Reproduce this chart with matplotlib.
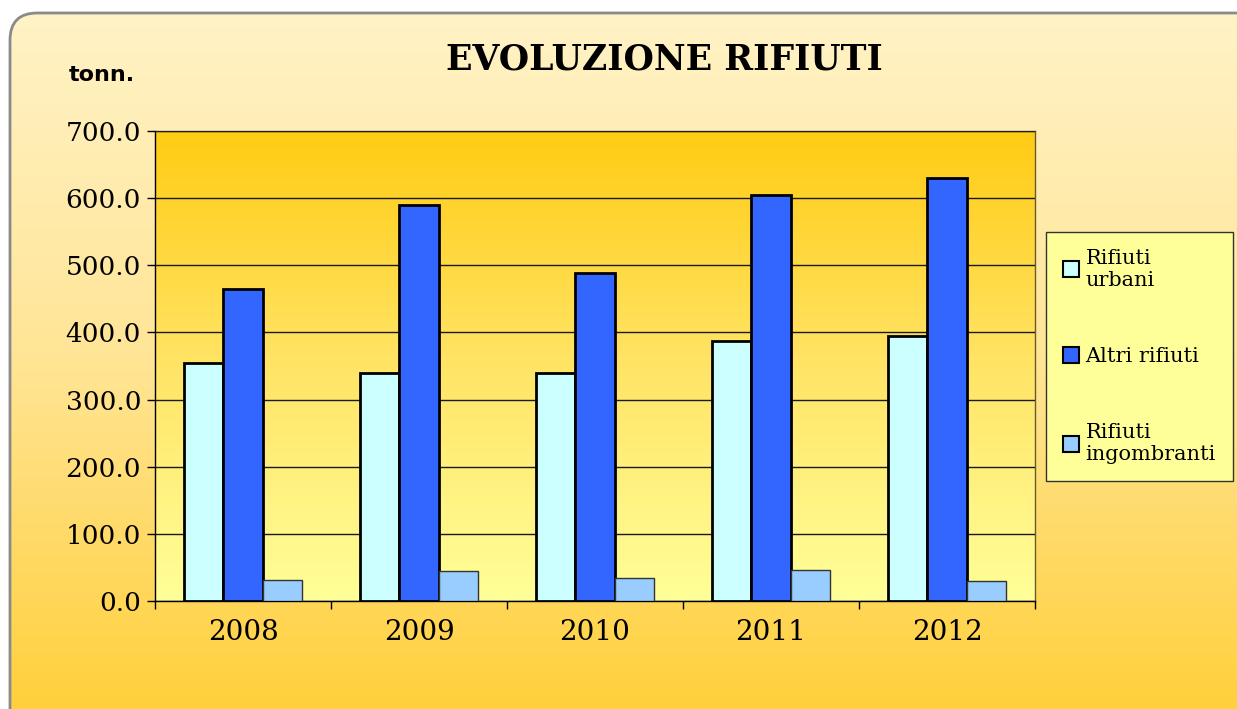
import matplotlib
matplotlib.use("Agg")
import matplotlib.pyplot as plt
import numpy as np
from matplotlib.colors import LinearSegmentedColormap
from matplotlib.patches import FancyBboxPatch, Patch

years = ["2008", "2009", "2010", "2011", "2012"]
urbani = [354.0, 339.0, 339.0, 387.5, 394.0]
altri = [465.0, 590.5, 488.0, 604.5, 630.5]
ingombranti = [31.5, 45.0, 35.0, 46.5, 30.0]
series_names = ["Rifiuti\nurbani", "Altri rifiuti", "Rifiuti\ningombranti"]
series_colors = ["#CCFFFF", "#3366FF", "#99CCFF"]

W, H = 1237, 709
fig = plt.figure(figsize=(W / 100, H / 100), dpi=100)
fig.patch.set_facecolor("white")

# background panel with rounded corner and vertical gradient
bg = fig.add_axes([0, 0, 1, 1], zorder=-5)
bg.set_xlim(0, 1)
bg.set_ylim(0, 1)
bg.axis("off")
bg_cmap = LinearSegmentedColormap.from_list("bg", ["#FFF3C8", "#FFE596", "#FFD03C"])
grad = np.linspace(0, 1, 256).reshape(-1, 1)
img = bg.imshow(grad, extent=[0, 1, 0, 1], origin="upper", aspect="auto", cmap=bg_cmap)
panel = FancyBboxPatch((10 / W, -0.1), 1.1, 1 - 13 / H + 0.1,
                       boxstyle="round,pad=0,rounding_size=0.022",
                       mutation_aspect=W / H, facecolor="none",
                       edgecolor="#8A8A8A", linewidth=2)
bg.add_patch(panel)
img.set_clip_path(panel)

ax = fig.add_axes([155 / W, 1 - 601 / H, 880 / W, 470 / H])
ax_cmap = LinearSegmentedColormap.from_list("ax", ["#FFCC14", "#FFE466", "#FFFF99"])
ax.imshow(grad, extent=[-0.5, 4.5, 0, 700], origin="upper", aspect="auto",
          cmap=ax_cmap, zorder=0)

x = np.arange(len(years))
w = 0.222
ax.bar(x - w, urbani, w, color=series_colors[0], edgecolor="black", linewidth=2, zorder=3)
ax.bar(x, altri, w, color=series_colors[1], edgecolor="black", linewidth=2, zorder=3)
ax.bar(x + w, ingombranti, w, color=series_colors[2], edgecolor="#333333", linewidth=1, zorder=3)

ax.set_xlim(-0.5, 4.5)
ax.set_ylim(0, 700)
ax.set_yticks(np.arange(0, 701, 100))
ax.set_yticklabels([f"{v:.1f}" for v in np.arange(0, 701, 100)],
                   fontfamily="DejaVu Serif", fontsize=19)
ax.yaxis.grid(True, color="#1a1a1a", linewidth=1)
ax.set_axisbelow(False)
for gl in ax.get_ygridlines():
    gl.set_zorder(1)

ax.set_xticks(np.arange(-0.5, 5, 1))
ax.set_xticklabels([])
ax.set_xticks(x, minor=True)
ax.set_xticklabels(years, minor=True, fontfamily="DejaVu Serif", fontsize=20)
ax.tick_params(axis="x", which="major", direction="out", length=6, width=1)
ax.tick_params(axis="x", which="minor", length=0, pad=13)
ax.tick_params(axis="y", direction="out", length=6, width=1, pad=4)

for s in ["top", "right"]:
    ax.spines[s].set_color("#6b5a2a")
    ax.spines[s].set_linewidth(1)
for s in ["left", "bottom"]:
    ax.spines[s].set_color("black")
    ax.spines[s].set_linewidth(1)

fig.text(664 / W, 1 - 59 / H, "EVOLUZIONE RIFIUTI", ha="center", va="center",
         fontfamily="DejaVu Serif", fontweight="heavy", fontsize=25)
fig.text(102 / W, 1 - 75 / H, "tonn.", ha="center", va="center",
         fontfamily="DejaVu Sans", fontweight="bold", fontsize=16)

handles = [Patch(facecolor=c, edgecolor="black", linewidth=1.5) for c in series_colors]
leg = fig.legend(handles, series_names, loc="upper left",
                 bbox_to_anchor=(1046 / W, 1 - 232 / H), borderaxespad=0,
                 prop={"family": "DejaVu Serif", "size": 15},
                 frameon=True, fancybox=False, handlelength=0.8, handleheight=0.8,
                 handletextpad=0.3, labelspacing=2.75, borderpad=0.8)
leg.get_frame().set_facecolor("#FFFF99")
leg.get_frame().set_edgecolor("#333333")
leg.get_frame().set_linewidth(1)
leg.get_frame().set_alpha(1)

fig.savefig("out.png", dpi=100)
